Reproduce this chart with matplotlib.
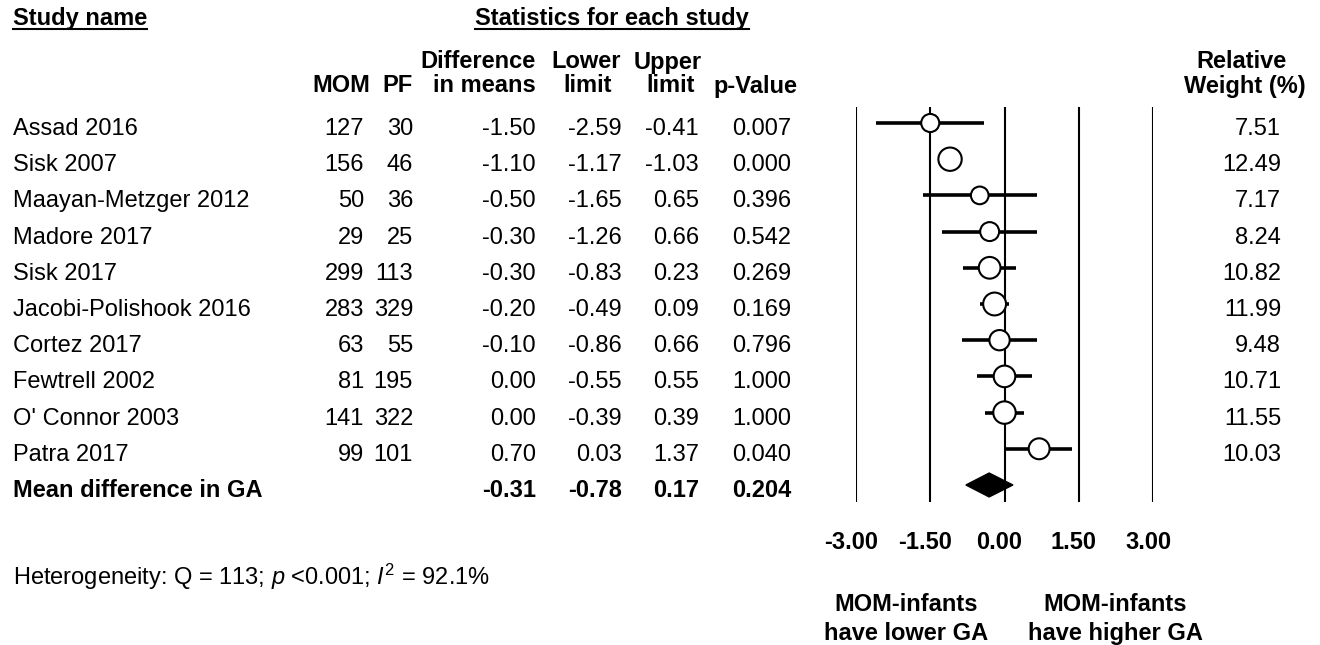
"""
Forest plot: mean difference in gestational age (MOM vs PF).
Table on the left, forest panel on the right, weights in the last column.
"""

import matplotlib
matplotlib.use("Agg")
import matplotlib.pyplot as plt
import numpy as np
from matplotlib.lines import Line2D
from matplotlib.patches import Polygon
from matplotlib.transforms import (ScaledTranslation, blended_transform_factory,
                                   offset_copy)

plt.rcParams["font.family"] = ["Liberation Sans", "DejaVu Sans"]
plt.rcParams["mathtext.fontset"] = "custom"
plt.rcParams["mathtext.rm"] = "Liberation Sans"
plt.rcParams["mathtext.it"] = "Liberation Sans:italic"
plt.rcParams["mathtext.bf"] = "Liberation Sans:bold"

# ---------------------------------------------------------------------------
# Data
# ---------------------------------------------------------------------------
studies = ["Assad 2016", "Sisk 2007", "Maayan-Metzger 2012", "Madore 2017",
           "Sisk 2017", "Jacobi-Polishook 2016", "Cortez 2017",
           "Fewtrell 2002", "O' Connor 2003", "Patra 2017"]
mom_n  = [127, 156, 50, 29, 299, 283, 63, 81, 141, 99]
pf_n   = [30, 46, 36, 25, 113, 329, 55, 195, 322, 101]
diff   = [-1.50, -1.10, -0.50, -0.30, -0.30, -0.20, -0.10, 0.00, 0.00, 0.70]
lower  = [-2.59, -1.17, -1.65, -1.26, -0.83, -0.49, -0.86, -0.55, -0.39, 0.03]
upper  = [-0.41, -1.03, 0.65, 0.66, 0.23, 0.09, 0.66, 0.55, 0.39, 1.37]
p_val  = [0.007, 0.000, 0.396, 0.542, 0.269, 0.169, 0.796, 1.000, 1.000, 0.040]
weight = [7.51, 12.49, 7.17, 8.24, 10.82, 11.99, 9.48, 10.71, 11.55, 10.03]

pooled_label = "Mean difference in GA"
pooled_diff, pooled_lower, pooled_upper, pooled_p = -0.31, -0.78, 0.17, 0.204

x_ticks = [-3.0, -1.5, 0.0, 1.5, 3.0]
heterogeneity = r"Heterogeneity: Q = 113; $p$ <0.001; $I^{2}$ = 92.1%"
left_note = "MOM-infants\nhave lower GA"
right_note = "MOM-infants\nhave higher GA"

# ---------------------------------------------------------------------------
# Layout helpers (pixel -> figure fraction)
# ---------------------------------------------------------------------------
W, H = 1320, 645
FS = 17


def fx(px):
    return px / W


def fy(py):
    return 1 - py / H


fig = plt.figure(figsize=(W / 100, H / 100), dpi=100)
fig.patch.set_facecolor("white")

# forest panel
n = len(studies)
rows = np.arange(n)
ax = fig.add_axes([fx(856), fy(502), (1153 - 856) / W, (502 - 107) / H])
ax.set_xlim(-3, 3)
ax.set_ylim(n + 0.47, -0.442)

for xv in x_ticks:
    ax.axvline(xv, color="black", lw=1.5, zorder=1)

ax.hlines(rows, lower, upper, color="black", lw=2.6, zorder=2)
marker_px = 6.6 * np.sqrt(weight)
ax.scatter(diff, rows, s=(marker_px * 0.72) ** 2, facecolor="white",
           edgecolor="black", linewidth=1.5, zorder=3)

h = 0.33
ax.add_patch(Polygon([(pooled_lower, n), (pooled_diff, n - h),
                      (pooled_upper, n), (pooled_diff, n + h)],
                     closed=True, facecolor="black", edgecolor="black", zorder=3))

for sp in ax.spines.values():
    sp.set_visible(False)
ax.set_yticks([])
ax.set_xticks(x_ticks)
ax.set_xticklabels([f"{v:.2f}" for v in x_ticks], fontsize=FS, fontweight="bold")
ax.tick_params(axis="x", length=0, pad=21)
for lbl in ax.get_xticklabels():
    lbl.set_transform(lbl.get_transform() + ScaledTranslation(-5 / 100, 0, fig.dpi_scale_trans))

# ---------------------------------------------------------------------------
# Table text (rows follow the forest rows, nudged a little lower)
# ---------------------------------------------------------------------------
tr = offset_copy(blended_transform_factory(fig.transFigure, ax.transData),
                 fig=fig, x=0, y=-6, units="dots")

cols_right = {"mom": 364, "pf": 413, "diff": 536, "lower": 622,
              "upper": 699, "p": 791, "w": 1281}

for i in range(n):
    fig.text(fx(13), i, studies[i], transform=tr, ha="left", va="center", fontsize=FS)
    fig.text(fx(cols_right["mom"]), i, f"{mom_n[i]}", transform=tr,
             ha="right", va="center", fontsize=FS)
    fig.text(fx(cols_right["pf"]), i, f"{pf_n[i]}", transform=tr,
             ha="right", va="center", fontsize=FS)
    fig.text(fx(cols_right["diff"]), i, f"{diff[i]:.2f}", transform=tr,
             ha="right", va="center", fontsize=FS)
    fig.text(fx(cols_right["lower"]), i, f"{lower[i]:.2f}", transform=tr,
             ha="right", va="center", fontsize=FS)
    fig.text(fx(cols_right["upper"]), i, f"{upper[i]:.2f}", transform=tr,
             ha="right", va="center", fontsize=FS)
    fig.text(fx(cols_right["p"]), i, f"{p_val[i]:.3f}", transform=tr,
             ha="right", va="center", fontsize=FS)
    fig.text(fx(cols_right["w"]), i, f"{weight[i]:.2f}", transform=tr,
             ha="right", va="center", fontsize=FS)

# pooled row
fig.text(fx(13), n, pooled_label, transform=tr, ha="left", va="center",
         fontsize=FS, fontweight="bold")
for key, val in [("diff", f"{pooled_diff:.2f}"), ("lower", f"{pooled_lower:.2f}"),
                 ("upper", f"{pooled_upper:.2f}"), ("p", f"{pooled_p:.3f}")]:
    fig.text(fx(cols_right[key]), n, val, transform=tr, ha="right", va="center",
             fontsize=FS, fontweight="bold")

# headers
bold = dict(fontsize=FS, fontweight="bold", va="center")
t_study = fig.text(fx(13), fy(18), "Study name", ha="left", **bold)
t_stats = fig.text(fx(475), fy(18), "Statistics for each study", ha="left", **bold)

fig.text(fx(341), fy(86), "MOM", ha="center", **bold)
fig.text(fx(398), fy(86), "PF", ha="center", **bold)
fig.text(fx(478), fy(62), "Difference", ha="center", **bold)
fig.text(fx(484), fy(86), "in means", ha="center", **bold)
fig.text(fx(586), fy(62), "Lower", ha="center", **bold)
fig.text(fx(588), fy(86), "limit", ha="center", **bold)
fig.text(fx(668), fy(62), "Upper", ha="center", **bold)
fig.text(fx(671), fy(86), "limit", ha="center", **bold)
fig.text(fx(755), fy(86), "p-Value", ha="center", **bold)
fig.text(fx(1242), fy(62), "Relative", ha="center", **bold)
fig.text(fx(1245), fy(86), "Weight (%)", ha="center", **bold)

# footer
fig.text(fx(13), fy(577), heterogeneity, ha="left", va="center", fontsize=FS)
fig.text(fx(906), fy(619), left_note, ha="center", va="center", fontsize=FS,
         fontweight="bold", linespacing=1.3)
fig.text(fx(1115), fy(619), right_note, ha="center", va="center", fontsize=FS,
         fontweight="bold", linespacing=1.3)

# underline the two top headers
fig.canvas.draw()
renderer = fig.canvas.get_renderer()
for t in (t_study, t_stats):
    bb = t.get_window_extent(renderer)
    yline = bb.y0 + 1
    fig.add_artist(Line2D([bb.x0 / W, bb.x1 / W], [yline / H, yline / H],
                          transform=fig.transFigure, color="black", lw=1.5))

fig.savefig("out.png", dpi=100, facecolor="white")
